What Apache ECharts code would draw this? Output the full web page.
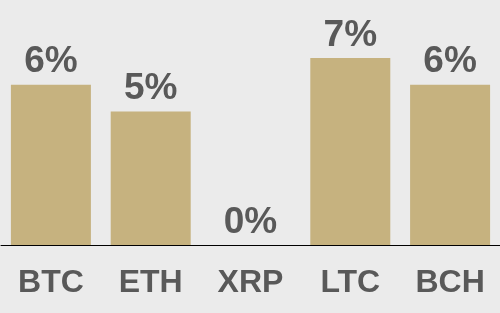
<!DOCTYPE html>
<html><head><meta charset="utf-8">
<script src="https://cdn.jsdelivr.net/npm/echarts@6/dist/echarts.min.js"></script>
<style>html,body{margin:0;padding:0;background:#ebebeb}#c{width:500px;height:313px}</style>
</head><body><div id="c"></div>
<script>
const categories = ["BTC", "ETH", "XRP", "LTC", "BCH"];
const values = [6, 5, 0, 7, 6];

const chart = echarts.init(document.getElementById('c'));
chart.setOption({
  backgroundColor: '#ebebeb',
  animation: false,
  grid: { left: 1, right: 0, top: 58, bottom: 68 },
  xAxis: {
    type: 'category', data: categories,
    axisLine: { lineStyle: { color: '#000', width: 1 } },
    axisTick: { show: false },
    axisLabel: { color: '#595959', fontSize: 32, fontWeight: 'bold', fontFamily: 'Liberation Sans, Arial', margin: 22 }
  },
  yAxis: { type: 'value', min: 0, max: 7, show: false, splitLine: { show: false } },
  series: [{
    type: 'bar', data: values, barWidth: 80,
    itemStyle: { color: '#c6b27f' },
    label: {
      show: true, position: 'top', distance: 4,
      formatter: p => p.value + '%',
      color: '#595959', fontSize: 37, fontWeight: 'bold', fontFamily: 'Liberation Sans, Arial'
    }
  }]
});
</script></body></html>
